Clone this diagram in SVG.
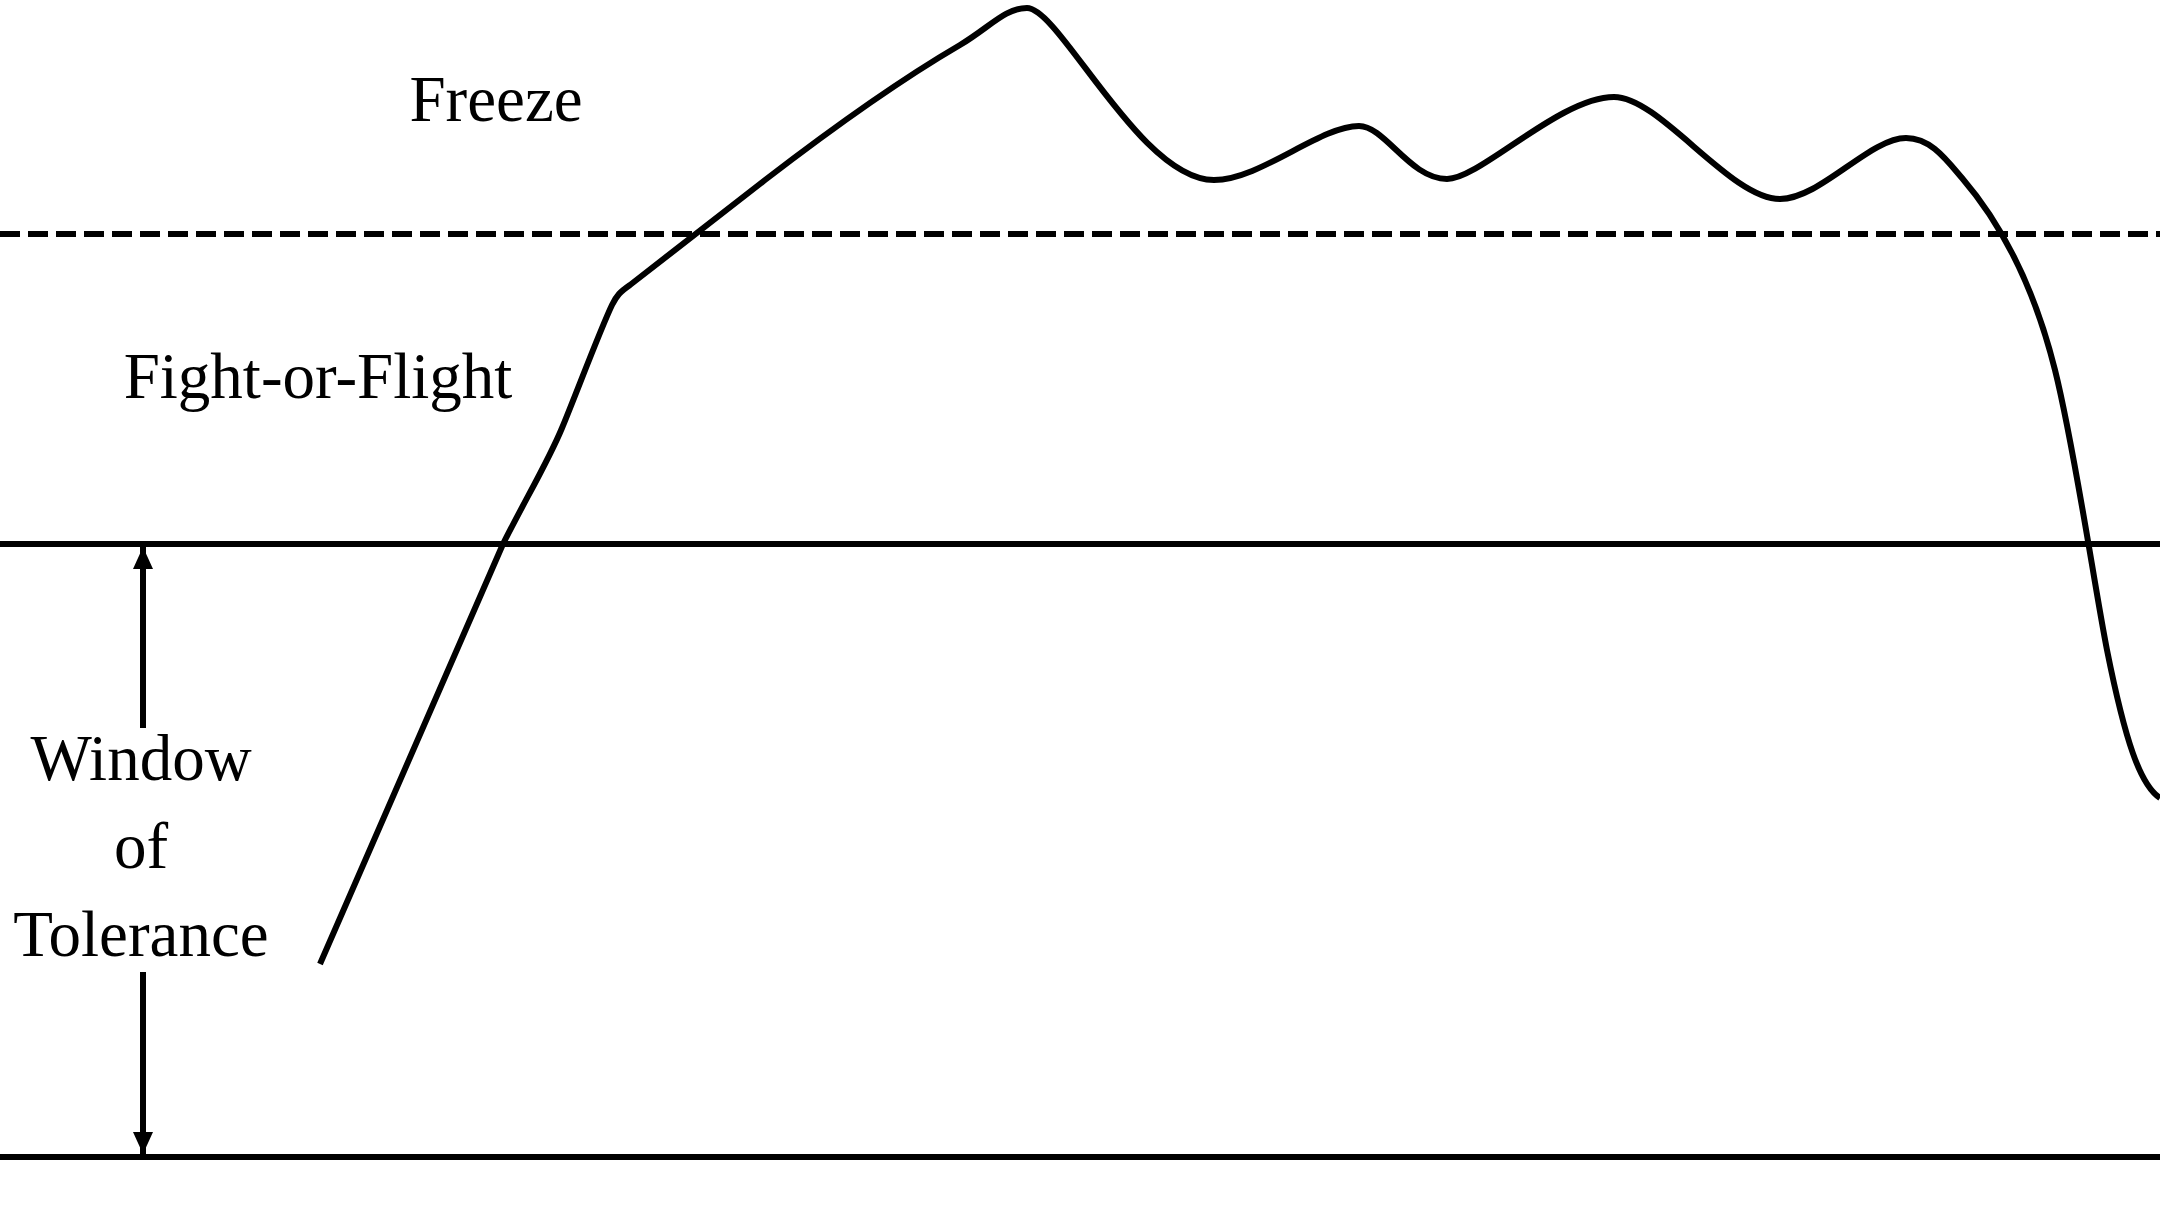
<svg xmlns="http://www.w3.org/2000/svg" width="2160" height="1224" viewBox="0 0 2160 1224">
<style>
.lbl{font-family:"Liberation Serif","Times New Roman",serif;font-size:65px;fill:#000;text-anchor:middle}
.ln{stroke:#000;stroke-width:6;fill:none}
</style>
<defs>
<marker id="ah" viewBox="0 0 22 20" refX="22" refY="10" markerWidth="22" markerHeight="20" markerUnits="userSpaceOnUse" orient="auto">
<path d="M0,0 L22,10 L0,20 Z" fill="#000"/>
</marker>
</defs>
<rect width="2160" height="1224" fill="#fff"/>
<g id="boundaries">
<line id="freeze-threshold" class="ln" x1="0" y1="234" x2="2160" y2="234" stroke-dasharray="20 8"/>
<line id="upper-limit" class="ln" x1="0" y1="544" x2="2160" y2="544"/>
<line id="lower-limit" class="ln" x1="0" y1="1157" x2="2160" y2="1157"/>
</g>
<g id="labels">
<text id="freeze" class="lbl" x="496" y="121">Freeze</text>
<text id="fight-or-flight" class="lbl" x="318" y="398">Fight-or-Flight</text>
<text id="window-of-tolerance" class="lbl" x="141"><tspan x="141" y="780">Window</tspan><tspan x="141" y="868">of</tspan><tspan x="141" y="956">Tolerance</tspan></text>
</g>
<g id="connectors">
<line class="ln" stroke-width="7" x1="143" y1="728" x2="143" y2="547" marker-end="url(#ah)"/>
<line class="ln" stroke-width="7" x1="143" y1="972" x2="143" y2="1154" marker-end="url(#ah)"/>
</g>
<g id="arousal-curve">
<path class="ln" stroke-width="6.5" stroke-linejoin="round" d="M320,964 L503,544 C525,500 548,462 562,428 C575,397 600,330 612,305 C617,295 620,292 630,285 L765,180 C830,130 900,80 960,45 C990,27 1005,8 1027,8 C1060,8 1140,180 1214,180 C1260,180 1320,126 1359,126 C1385,126 1410,179 1447,179 C1480,179 1560,97 1614,97 C1660,97 1730,199 1780,199 C1820,199 1870,138 1906,138 C1930,138 1945,158 1962,178 C2005,228 2035,290 2055,370 C2075,450 2095,590 2107,650 C2125,740 2140,785 2160,798"/>
</g>
</svg>
